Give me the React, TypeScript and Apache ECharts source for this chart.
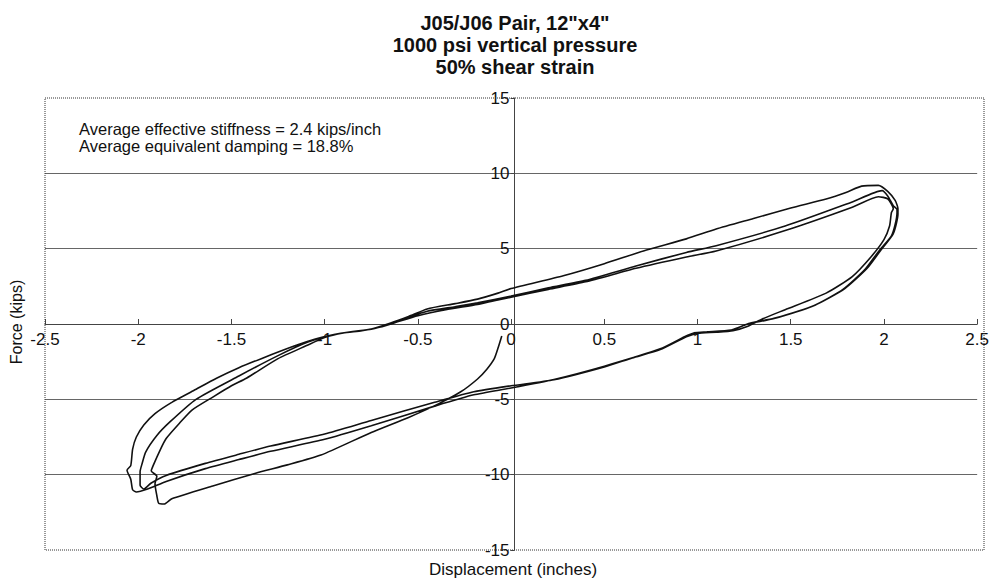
import React, { useEffect, useRef } from "react";
import * as echarts from "echarts";

const titleLines = ['J05/J06 Pair, 12"x4"', "1000 psi vertical pressure", "50% shear strain"];
const annotationLines = [
  "Average effective stiffness = 2.4 kips/inch",
  "Average equivalent damping = 18.8%",
];
const xAxisName = "Displacement (inches)";
const yAxisName = "Force (kips)";

const xMin = -2.5;
const xMax = 2.5;
const xStep = 0.5;
const yMin = -15;
const yMax = 15;
const yStep = 5;

// Displacement (in), Force (kips) — traced along the recorded hysteresis path
const initialLoading: [number, number][] = [
  [-0.05, -0.8], [-0.07, -1.6], [-0.09, -2.3], [-0.13, -3.0], [-0.18, -3.65], [-0.27, -4.5],
  [-0.39, -5.3], [-0.55, -6.2], [-0.75, -7.2], [-1.02, -8.7], [-1.2, -9.35], [-1.37, -9.9],
  [-1.6, -10.75], [-1.82, -11.6], [-1.86, -11.95], [-1.89, -11.9], [-1.9, -11.4], [-1.91, -10.6],
  [-1.9, -10.1], [-1.93, -9.75], [-1.92, -9.4],
];

const cycle1Up: [number, number][] = [
  [-1.88, -8.3], [-1.85, -7.6], [-1.78, -6.6], [-1.71, -5.7], [-1.6, -4.85], [-1.5, -4.1],
  [-1.42, -3.6], [-1.25, -2.3], [-1.1, -1.45], [-1.0, -0.9], [-0.9, -0.6], [-0.8, -0.45],
  [-0.7, -0.2], [-0.62, 0.1], [-0.5, 0.55], [-0.35, 0.95], [-0.18, 1.3], [-0.09, 1.55],
  [0, 1.78], [0.2, 2.3], [0.4, 2.8], [0.67, 3.7], [0.94, 4.45], [1.1, 4.85], [1.47, 6.2],
  [1.83, 7.75], [1.97, 8.45], [2.02, 8.3], [2.05, 7.65],
];

const cycle1Down: [number, number][] = [
  [2.04, 7.4], [2.03, 6.5], [2.0, 5.6], [1.93, 4.45], [1.83, 3.15], [1.69, 2.05], [1.47, 0.95],
  [1.35, 0.35], [1.27, -0.15], [1.19, -0.45], [1.1, -0.55], [1.0, -0.62], [0.94, -0.85],
  [0.8, -1.7], [0.65, -2.25], [0.5, -2.85], [0.23, -3.7], [0, -4.1], [-0.2, -4.5],
  [-0.41, -5.2], [-0.75, -6.4], [-1.0, -7.3], [-1.29, -8.1], [-1.46, -8.65], [-1.64, -9.25],
  [-1.85, -10.05], [-1.93, -10.55], [-1.97, -10.95], [-1.99, -10.7], [-1.99, -9.8],
];

const cycle2Up: [number, number][] = [
  [-1.98, -9.3], [-1.96, -8.5], [-1.9, -7.4], [-1.83, -6.5], [-1.69, -5.0], [-1.46, -3.45],
  [-1.25, -2.1], [-1.09, -1.2], [-0.95, -0.7], [-0.85, -0.5], [-0.75, -0.35], [-0.65, 0.0],
  [-0.55, 0.45], [-0.45, 0.85], [-0.3, 1.15], [-0.18, 1.4], [0, 1.85], [0.2, 2.4], [0.4, 2.9],
  [0.67, 3.85], [0.94, 4.75], [1.1, 5.2], [1.47, 6.5], [1.83, 8.1], [1.99, 8.85], [2.02, 8.5],
  [2.05, 7.85], [2.07, 7.6],
];

const cycle2Down: [number, number][] = [
  [2.07, 7.4], [2.06, 6.6], [2.04, 5.85], [1.97, 4.8], [1.9, 3.65], [1.78, 2.3], [1.62, 1.2],
  [1.4, 0.33], [1.27, 0.0], [1.17, -0.45], [1.05, -0.55], [0.98, -0.6], [0.93, -0.85],
  [0.8, -1.65], [0.5, -2.8], [0.23, -3.68], [0, -4.25], [-0.2, -4.7], [-0.41, -5.45],
  [-0.75, -6.75], [-1.0, -7.65], [-1.29, -8.45], [-1.46, -9.0], [-1.64, -9.6], [-1.85, -10.45],
  [-1.95, -10.95], [-2.01, -11.15], [-2.03, -11.0], [-2.04, -10.3], [-2.06, -9.7], [-2.04, -9.4],
];

const cycle3: [number, number][] = [
  [-2.03, -8.3], [-2.01, -7.5], [-1.97, -6.7], [-1.91, -5.95], [-1.82, -5.2], [-1.7, -4.4],
  [-1.58, -3.6], [-1.46, -2.9], [-1.34, -2.3], [-1.16, -1.45], [-1.05, -1.0], [-0.95, -0.7],
  [-0.85, -0.5], [-0.75, -0.33], [-0.65, 0.05], [-0.55, 0.5], [-0.45, 1.0], [-0.3, 1.35],
  [-0.18, 1.65], [-0.07, 2.05], [0, 2.35], [0.28, 3.2], [0.5, 4.0], [0.71, 4.85], [0.94, 5.65],
  [1.1, 6.3], [1.3, 7.0], [1.5, 7.7], [1.69, 8.3], [1.8, 8.75], [1.88, 9.15], [1.97, 9.2],
  [2.02, 8.8], [2.06, 8.2], [2.075, 7.65], [2.075, 7.3], [2.05, 6.0], [1.98, 4.85], [1.91, 3.7],
  [1.79, 2.35], [1.63, 1.25], [1.41, 0.38], [1.28, 0.05], [1.18, -0.4], [1.05, -0.52],
  [0.98, -0.58],
];

const FONT = "'Liberation Sans', Arial, Helvetica, sans-serif";

export default function App() {
  const ref = useRef<HTMLDivElement>(null);

  useEffect(() => {
    if (!ref.current) return;
    const chart = echarts.init(ref.current, undefined, { renderer: "svg" });
    const path = [...initialLoading, ...cycle1Up, ...cycle1Down, ...cycle2Up, ...cycle2Down, ...cycle3];
    const W = 992;
    const H = 585;
    const gridLeft = 45;
    const gridTop = 98;
    const gridRight = 8;
    const gridBottom = 35;
    const gridW = W - gridLeft - gridRight;
    const gridH = H - gridTop - gridBottom;
    // place each axis where the other axis' value is zero
    const xAxisOffset = -gridH * ((0 - yMin) / (yMax - yMin));
    const yAxisOffset = -gridW * ((0 - xMin) / (xMax - xMin));

    chart.setOption({
      animation: false,
      backgroundColor: "#ffffff",
      title: {
        text: titleLines.join("\n"),
        left: 510,
        top: 7,
        textAlign: "center",
        textStyle: {
          fontFamily: FONT,
          fontSize: 20,
          fontWeight: "bold",
          color: "#111",
          lineHeight: 22,
        },
      },
      grid: {
        left: gridLeft,
        top: gridTop,
        right: gridRight,
        bottom: gridBottom,
        containLabel: false,
      },
      xAxis: {
        type: "value",
        min: xMin,
        max: xMax,
        interval: xStep,
        position: "bottom",
        offset: xAxisOffset,
        axisLine: { onZero: false, lineStyle: { color: "#444", width: 1 } },
        axisTick: { show: true, inside: true, length: 5, lineStyle: { color: "#444" } },
        axisLabel: { fontFamily: FONT, fontSize: 17, color: "#111", margin: 7 },
        splitLine: { show: false },
      },
      yAxis: {
        type: "value",
        min: yMin,
        max: yMax,
        interval: yStep,
        position: "left",
        offset: yAxisOffset,
        axisLine: { onZero: false, lineStyle: { color: "#444", width: 1 } },
        axisTick: { show: true, length: 4, lineStyle: { color: "#444" } },
        axisLabel: { fontFamily: FONT, fontSize: 17, color: "#111", margin: 5 },
        splitLine: {
          show: true,
          showMinLine: false,
          showMaxLine: false,
          lineStyle: { color: "#666", width: 1 },
        },
      },
      graphic: [
        {
          type: "rect",
          shape: { x: gridLeft, y: gridTop, width: gridW, height: gridH },
          style: { fill: "none", stroke: "#333", lineWidth: 1, lineDash: [1, 1] },
          silent: true,
          z: 1,
        },
        {
          type: "text",
          x: 79,
          y: 120,
          style: {
            text: annotationLines.join("\n"),
            fontFamily: FONT,
            fontSize: 16.5,
            lineHeight: 17,
            fill: "#111",
            textAlign: "left",
            textVerticalAlign: "top",
          },
        },
        {
          type: "text",
          x: 513,
          y: 569,
          style: {
            text: xAxisName,
            fontFamily: FONT,
            fontSize: 17,
            fill: "#111",
            textAlign: "center",
            textVerticalAlign: "middle",
          },
        },
        {
          type: "text",
          x: 16,
          y: 322,
          rotation: Math.PI / 2,
          style: {
            text: yAxisName,
            fontFamily: FONT,
            fontSize: 16,
            fill: "#111",
            textAlign: "center",
            textVerticalAlign: "middle",
          },
        },
      ],
      series: [
        {
          type: "line",
          data: path,
          showSymbol: false,
          symbol: "none",
          smooth: 0.2,
          lineStyle: { color: "#111", width: 1.6 },
          z: 5,
        },
      ],
    });

    return () => {
      chart.dispose();
    };
  }, []);

  return (
    <div
      ref={ref}
      style={{ position: "absolute", left: 0, top: 0, width: 992, height: 585, background: "#fff" }}
    />
  );
}
